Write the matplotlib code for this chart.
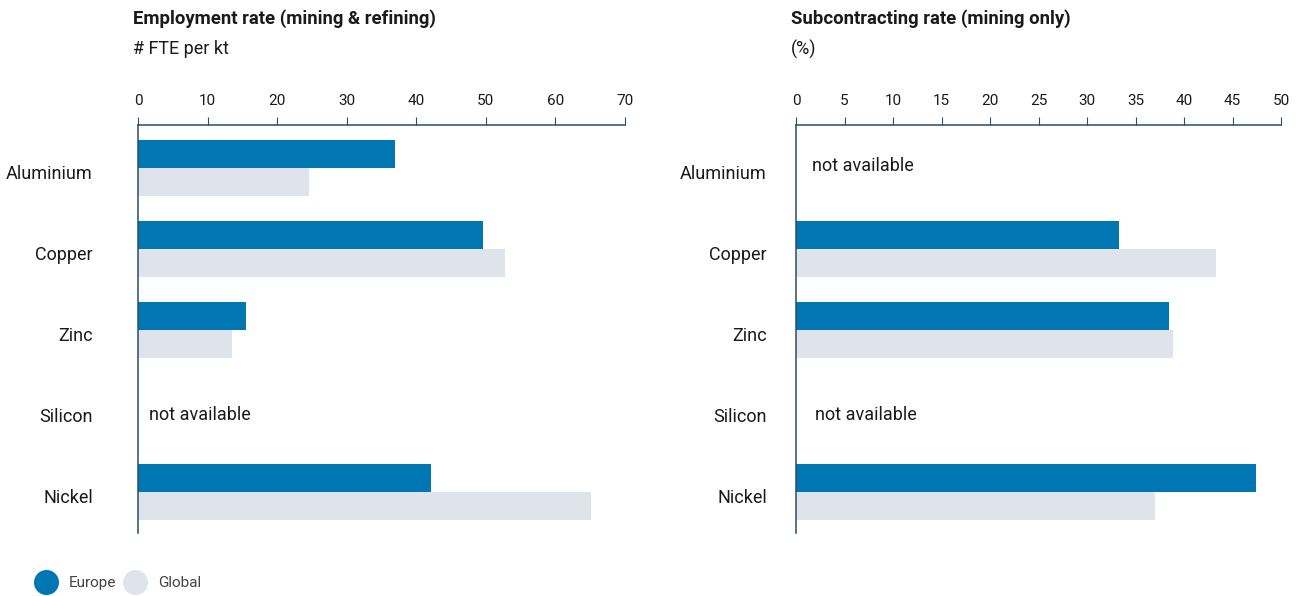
import numpy as np
import matplotlib
matplotlib.use("Agg")
import matplotlib.pyplot as plt
import matplotlib.transforms as mtransforms
from matplotlib.lines import Line2D

plt.rcParams['font.family'] = ['Roboto', 'DejaVu Sans']

# Données
metals = ["Aluminium", "Copper", "Zinc", "Silicon", "Nickel"]
emp_europe = [36.9, 49.6, 15.5, None, 42.1]
emp_global = [24.6, 52.7, 13.5, None, 65.1]
sub_europe = [None, 33.3, 38.4, None, 47.4]
sub_global = [None, 43.3, 38.9, None, 37.0]
emp_ticks = [0, 10, 20, 30, 40, 50, 60, 70]
sub_ticks = [0, 5, 10, 15, 20, 25, 30, 35, 40, 45, 50]

EUROPE = "#0077b3"
GLOBAL = "#dfe4ec"
AXIS = "#2a4d63"
TEXT = "#1a1a1a"

fig = plt.figure(figsize=(12.98, 5.96), dpi=100)
ax1 = fig.add_axes([0.1063, 0.1057, 0.3752, 0.6846])
ax2 = fig.add_axes([0.6133, 0.1057, 0.3737, 0.6846])


def draw_panel(ax, europe, glob, ticks, title, subtitle, label_pad, na_offsets):
    y = np.arange(len(metals))
    h = 0.35
    trans = mtransforms.blended_transform_factory(ax.transAxes, ax.transData)
    for i, (e, g) in enumerate(zip(europe, glob)):
        if e is None and g is None:
            ax.text(na_offsets[i], i - 0.03 if i == 0 else i + 0.05, "not available",
                    va="center", ha="left", fontsize=13, color=TEXT, transform=trans)
            continue
        ax.barh(y[i] - h / 2, e, height=h, color=EUROPE)
        ax.barh(y[i] + h / 2, g, height=h, color=GLOBAL)
    ax.set_xlim(0, ticks[-1])
    ax.set_ylim(4.506, -0.531)
    ax.set_xticks(ticks)
    # libellés un peu plus bas que le centre des barres
    ax.set_yticks(y + 0.045)
    ax.set_yticklabels(metals, fontsize=13, color=TEXT)
    ax.xaxis.tick_top()
    ax.tick_params(axis="x", direction="out", length=6, color=AXIS, labelsize=11,
                   labelcolor=TEXT, pad=6)
    ax.tick_params(axis="y", length=0, pad=label_pad)
    for s in ["bottom", "right"]:
        ax.spines[s].set_visible(False)
    for s in ["top", "left"]:
        ax.spines[s].set_color(AXIS)
        ax.spines[s].set_linewidth(1.1)
    ax.text(-0.01, 1.26, title, transform=ax.transAxes, fontsize=13.3,
            fontweight="bold", color=TEXT, ha="left", va="center")
    ax.text(-0.01, 1.185, subtitle, transform=ax.transAxes, fontsize=13,
            color=TEXT, ha="left", va="center")


draw_panel(ax1, emp_europe, emp_global, emp_ticks,
           "Employment rate (mining & refining)", "# FTE per kt",
           32.4, {3: 0.0226})
draw_panel(ax2, sub_europe, sub_global, sub_ticks,
           "Subcontracting rate (mining only)", "(%)",
           21, {0: 0.033, 3: 0.039})

# Légende
handles = [Line2D([0], [0], marker="o", linestyle="", markersize=17,
                  markerfacecolor=EUROPE, markeredgecolor=EUROPE, label="Europe"),
           Line2D([0], [0], marker="o", linestyle="", markersize=17,
                  markerfacecolor=GLOBAL, markeredgecolor=GLOBAL, label="Global")]
leg = fig.legend(handles=handles, loc="center left", bbox_to_anchor=(0.018, 0.021),
                 ncol=2, frameon=False, fontsize=11, handletextpad=0.9,
                 columnspacing=0.6, handlelength=1.2)
for t in leg.get_texts():
    t.set_color("#444444")

fig.savefig("out.png", dpi=100)
